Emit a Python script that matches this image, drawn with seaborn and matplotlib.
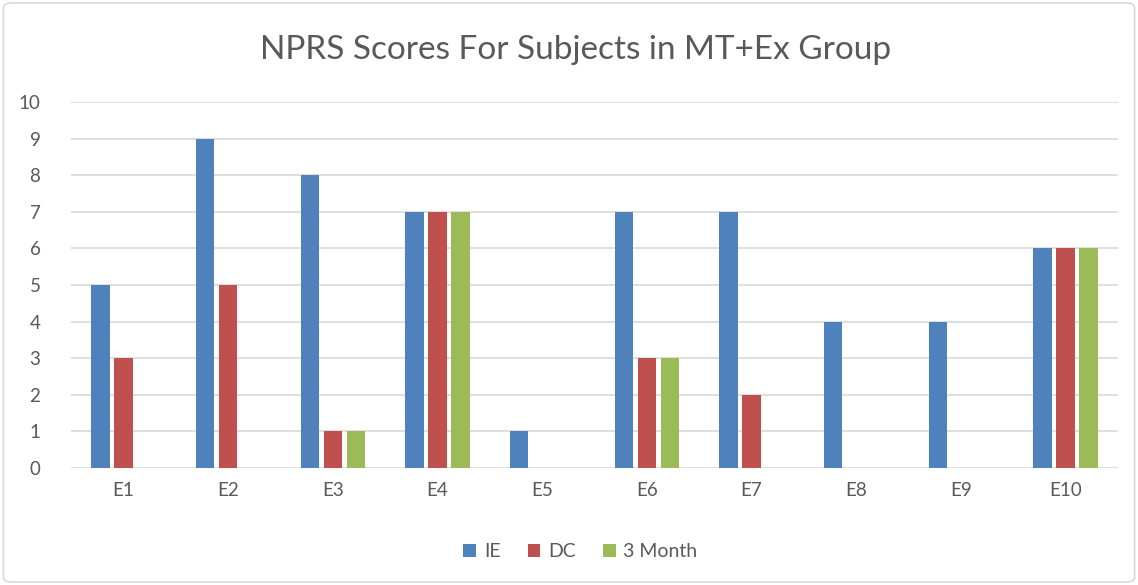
import matplotlib
matplotlib.use("Agg")
import matplotlib.pyplot as plt
import seaborn as sns
import pandas as pd
from matplotlib.patches import FancyBboxPatch, Patch

subjects = ["E1", "E2", "E3", "E4", "E5", "E6", "E7", "E8", "E9", "E10"]
ie = [5, 9, 8, 7, 1, 7, 7, 4, 4, 6]
dc = [3, 5, 1, 7, 0, 3, 2, 0, 0, 6]
month3 = [0, 0, 1, 7, 0, 3, 0, 0, 0, 6]
series = ["IE", "DC", "3 Month"]
colors = ["#4F81BD", "#C0504D", "#9BBB59"]
title = "NPRS Scores For Subjects in MT+Ex Group"

rows = []
for name, vals in zip(series, [ie, dc, month3]):
    for s, v in zip(subjects, vals):
        rows.append({"Subject": s, "Series": name, "Score": v})
df = pd.DataFrame(rows)

sns.set_theme(style="white")
plt.rcParams['font.family'] = ['Lato', 'DejaVu Sans']

fig = plt.figure(figsize=(11.38, 5.85), dpi=100)
ax = fig.add_axes([0.0624, 0.2005, 0.92, 0.6246])

sns.barplot(data=df, x="Subject", y="Score", hue="Series", palette=colors,
            width=0.66, gap=0.2, ax=ax, legend=False, saturation=1, linewidth=0)

ax.set_ylim(0, 10)
ax.set_xlim(-0.5, len(subjects) - 0.5)
ax.set_yticks(range(0, 11))
ax.yaxis.grid(True, color="#d9d9d9", linewidth=1.2)
ax.set_axisbelow(True)
for sp in ax.spines.values():
    sp.set_visible(False)
ax.tick_params(axis="both", length=0, labelsize=13.5, colors="#595959", pad=10)
ax.tick_params(axis="y", pad=22)
ax.set_xlabel("")
ax.set_ylabel("")

fig.text(0.506, 0.915, title, ha="center", va="center", fontsize=24,
         color="#595959", fontweight="normal")

handles = [Patch(facecolor=c, edgecolor="none") for c in colors]
fig.legend(handles, series, loc="center", bbox_to_anchor=(0.51, 0.057), ncol=3,
           frameon=False, fontsize=14, handlelength=0.65, handleheight=0.65,
           handletextpad=0.4, columnspacing=1.4, labelcolor="#595959")

border = FancyBboxPatch((0.003, 0.005), 0.994, 0.99, boxstyle="round,pad=0,rounding_size=0.008",
                        transform=fig.transFigure, facecolor="none",
                        edgecolor="#d9d9d9", linewidth=1.2)
fig.patches.append(border)

fig.savefig("out.png", dpi=100)
